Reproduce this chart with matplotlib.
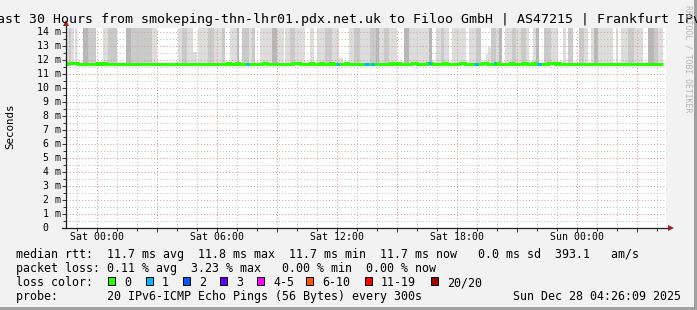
import matplotlib
matplotlib.use("Agg")
import matplotlib.pyplot as plt
from matplotlib import transforms
from matplotlib.patches import Rectangle
from matplotlib.ticker import MultipleLocator

W, H = 697, 310
MONO = "DejaVu Sans Mono"

# hours relative to Sat 00:00; window is Fri 22:26:09 .. Sun 04:26:09
t_first, t_last = -1.564, 28.436
data_start, data_end = -1.54, 28.27

# smoke: segment start (h) and how many of the 20 pings are above the top of the graph
smoke_start = [-1.54, -1.42, -1.29, -1.15, -1.09, -1.00, -0.70, -0.45, -0.04, 0.30,
               0.55, 0.97, 1.42, 1.68, 2.72, 2.97, 4.05, 4.25, 4.47, 4.80,
               5.05, 5.55, 5.85, 6.23, 6.40, 6.65, 6.98, 7.07, 7.23, 7.57,
               7.73, 7.90, 8.15, 8.73, 8.98, 9.32, 9.40, 9.65, 9.90, 10.40,
               10.65, 10.82, 10.98, 11.40, 11.73, 12.07, 12.57, 12.82, 13.15, 13.62,
               13.92, 14.08, 14.33, 14.58, 15.00, 15.33, 15.58, 15.83, 16.33, 16.58,
               16.75, 16.92, 17.17, 17.33, 17.58, 17.75, 18.42, 18.58, 18.92, 19.17,
               19.67, 19.92, 20.08, 20.25, 20.38, 20.75, 20.92, 21.18, 21.43, 21.60,
               21.77, 21.93, 22.10, 22.35, 22.68, 23.02, 23.27, 23.43, 23.52, 23.77,
               24.10, 24.35, 24.52, 24.68, 24.85, 25.02, 25.77, 25.93, 26.02, 26.18,
               26.52, 26.85, 27.27, 27.52, 27.85, 28.02]
smoke_over = [1, 2, 1, 0, 1, 0, 3, 2, 0, 1,
              2, 0, 3, 2, 1, 0, 1, 2, 1, 0,
              1, 2, 1, 2, 0, 1, 3, 0, 2, 1,
              2, 0, 1, 3, 1, 0, 1, 2, 1, 0,
              1, 0, 1, 2, 1, 0, 1, 2, 1, 2,
              3, 1, 2, 1, 0, 3, 1, 1, 1, 3,
              0, 1, 2, 1, 0, 1, 0, 1, 2, 0,
              2, 1, 3, 0, 1, 2, 1, 2, 1, 0,
              1, 3, 0, 2, 1, 0, 1, 0, 2, 0,
              2, 1, 0, 1, 3, 1, 0, 1, 0, 1,
              2, 1, 0, 3, 2, 1]
smoke_low = 11.6

# short smoke peaks that stay inside the graph
peak_start = [4.80, 12.07, 19.42, 19.55]
peak_end = [4.97, 12.30, 19.55, 19.67]
peak_ms = [12.6, 12.15, 12.4, 12.9]

# median rtt: base value and short intervals where it was higher
rtt_base = 11.70
rtt_up_start = [-1.53, -0.03, 0.27, 6.47, 6.93, 8.27, 9.77, 10.62, 11.12, 11.62, 12.37,
                14.62, 14.97, 15.72, 16.47, 17.27, 18.12, 19.22, 19.87, 20.62, 21.27,
                21.72, 22.52, 22.97]
rtt_up_end = [-0.98, 0.12, 0.42, 6.62, 7.07, 8.47, 10.12, 10.77, 11.27, 11.77, 12.52,
              14.77, 15.12, 15.97, 16.72, 17.47, 18.37, 19.47, 20.02, 20.77, 21.47,
              21.87, 22.87, 23.12]
rtt_up_ms = [11.79, 11.78, 11.78, 11.78, 11.77, 11.78, 11.78, 11.78, 11.77, 11.78, 11.78,
             11.78, 11.78, 11.78, 11.78, 11.78, 11.78, 11.78, 11.77, 11.78, 11.78,
             11.77, 11.78, 11.78]

# packet loss intervals (lost pings out of 20)
loss_start = [7.42, 11.92, 13.32, 13.67, 16.52, 18.82, 19.82, 21.97]
loss_end = [7.57, 12.07, 13.57, 13.82, 16.67, 19.02, 19.92, 22.17]
loss_pings = [1, 1, 1, 1, 1, 1, 1, 1]

loss_labels = ["0", "1", "2", "3", "4-5", "6-10", "11-19", "20/20"]
loss_colors = ["#26ff00", "#00b8ff", "#0059ff", "#5e00ff", "#ff00ff", "#ff5500", "#ff0000", "#a10000"]
loss_lower = [0, 1, 2, 3, 4, 6, 11, 20]

x_label_hours = [0, 6, 12, 18, 24]
x_label_text = ["Sat 00:00", "Sat 06:00", "Sat 12:00", "Sat 18:00", "Sun 00:00"]
y_label_values = list(range(0, 15))

rtt_avg, rtt_max, rtt_min, rtt_now, rtt_sd, rtt_ams = 11.7, 11.8, 11.7, 11.7, 0.0, 393.1
loss_avg, loss_max, loss_min, loss_now = 0.11, 3.23, 0.00, 0.00
title = ("Last 30 Hours from smokeping-thn-lhr01.pdx.net.uk to Filoo GmbH | "
         "AS47215 | Frankfurt IPv6")
probe = "20 IPv6-ICMP Echo Pings (56 Bytes) every 300s"
stamp = "Sun Dec 28 04:26:09 2025"


def fx(px):
    return px / W


def fy(px):
    return 1 - px / H


fig = plt.figure(figsize=(W / 100, H / 100), dpi=100, facecolor="#f2f2f2")
ax_left, ax_right, ax_top, ax_bottom = 66, 666, 27.5, 228
ax = fig.add_axes([fx(ax_left), fy(ax_bottom), (ax_right - ax_left) / W, (ax_bottom - ax_top) / H])
ax.set_facecolor("white")
ax.set_xlim(t_first, t_last)
ax.set_ylim(0, 14.32)
for s in ax.spines.values():
    s.set_visible(False)

# smoke
bounds = smoke_start + [data_end]
for i, k in enumerate(smoke_over):
    if k == 0:
        continue
    g = int(190 / 10 * (10 - k)) + 50
    ax.fill_between([bounds[i], bounds[i + 1]], smoke_low, 20, color="#%02x%02x%02x" % (g, g, g),
                    lw=0, antialiased=False, zorder=1)
for s0, s1, p in zip(peak_start, peak_end, peak_ms):
    ax.fill_between([s0, s1], smoke_low, p, color="#dddddd", lw=0, antialiased=False, zorder=1)

# grid on top of smoke
ax.set_axisbelow(False)
ax.xaxis.set_major_locator(MultipleLocator(3))
ax.xaxis.set_minor_locator(MultipleLocator(1))
ax.yaxis.set_major_locator(MultipleLocator(1))
ax.yaxis.set_minor_locator(MultipleLocator(0.5))
ax.grid(which="minor", color="#c4c4c4", linestyle=(0, (1, 2)), lw=0.75)
ax.grid(which="major", color="#d89a9a", linestyle=(0, (1, 2)), lw=0.75)
ax.tick_params(which="both", direction="out", color="#333333", width=0.7,
               labelleft=False, labelbottom=False)
ax.tick_params(which="major", length=3)
ax.tick_params(which="minor", length=2)

# median line (step), coloured by loss
xs, ys = [data_start], [rtt_base]
for a, b, v in zip(rtt_up_start, rtt_up_end, rtt_up_ms):
    xs += [a, a, b, b]
    ys += [rtt_base, v, v, rtt_base]
xs.append(data_end)
ys.append(rtt_base)
ax.plot(xs, ys, color=loss_colors[0], lw=2.2, solid_capstyle="butt", solid_joinstyle="miter", zorder=5)


def rtt_at(t):
    for a, b, v in zip(rtt_up_start, rtt_up_end, rtt_up_ms):
        if a <= t < b:
            return v
    return rtt_base


for a, b, n in zip(loss_start, loss_end, loss_pings):
    ci = max(i for i, lo in enumerate(loss_lower) if n >= lo)
    v = rtt_at((a + b) / 2)
    ax.plot([a, b], [v, v], color=loss_colors[ci], lw=2.2, solid_capstyle="butt", zorder=6)

# axes with arrows
axis_c, arrow_c = "#1f1f1f", "#9b2020"
aw, ah = ax_right - ax_left, ax_bottom - ax_top
ax.plot([(62 - ax_left) / aw, (668 - ax_left) / aw], [0, 0], transform=ax.transAxes,
        color=axis_c, lw=0.9, clip_on=False, zorder=7)
ax.plot([0, 0], [0, (ax_bottom - 23) / ah], transform=ax.transAxes,
        color=axis_c, lw=0.9, clip_on=False, zorder=7)
ax.plot([0], [(ax_bottom - 23.5) / ah], marker="^", ms=4.5, color=arrow_c, mew=0,
        transform=ax.transAxes, clip_on=False, zorder=8)
ax.plot([(670.5 - ax_left) / aw], [0], marker=">", ms=4.5, color=arrow_c, mew=0,
        transform=ax.transAxes, clip_on=False, zorder=8)

# tick labels
ytr = transforms.offset_copy(transforms.blended_transform_factory(fig.transFigure, ax.transData),
                             fig=fig, x=0, y=-3.4, units="dots")
for v in y_label_values:
    if v == 0:
        fig.text(fx(48.5), v, "0", transform=ytr, ha="right", va="baseline",
                 fontsize=7.1, family=MONO)
    else:
        fig.text(fx(60.5), v, "%d m" % v, transform=ytr, ha="right", va="baseline",
                 fontsize=7.1, family=MONO)
xtr = transforms.blended_transform_factory(ax.transData, fig.transFigure)
for h, lab in zip(x_label_hours, x_label_text):
    fig.text(h, fy(240.5), lab, transform=xtr, ha="center", va="baseline",
             fontsize=7.1, family=MONO)

fig.text(fx(10), fy(126), "Seconds", rotation=90, ha="center", va="center",
         fontsize=7.8, family=MONO)
fig.text(fx(349), fy(19), title, ha="center", va="center", fontsize=9.5, family=MONO)
fig.text(fx(688), fy(59), "RRDTOOL / TOBI OETIKER", rotation=270, ha="center", va="center",
         fontsize=5.9, family=MONO, color="#b4b4b4")

# legend
lf = 8.38
row1 = ("median rtt:  %.1f ms avg  %.1f ms max  %.1f ms min  %.1f ms now   %.1f ms sd  %.1f   am/s"
        % (rtt_avg, rtt_max, rtt_min, rtt_now, rtt_sd, rtt_ams))
row2 = ("packet loss: %.2f %% avg  %.2f %% max  %5.2f %% min  %.2f %% now"
        % (loss_avg, loss_max, loss_min, loss_now))
fig.text(fx(16), fy(258), row1, ha="left", va="baseline", fontsize=lf, family=MONO)
fig.text(fx(16), fy(272), row2, ha="left", va="baseline", fontsize=lf, family=MONO)
fig.text(fx(16), fy(286), "loss color:", ha="left", va="baseline", fontsize=lf, family=MONO)
box_x = [108, 146, 183, 220, 257, 306, 365, 431]
for bx, lab, col in zip(box_x, loss_labels, loss_colors):
    fig.add_artist(Rectangle((fx(bx), fy(285.3)), 7 / W, 8 / H, transform=fig.transFigure,
                             facecolor=col, edgecolor="black", lw=0.7))
    fig.text(fx(bx + 16), fy(286), lab, ha="left", va="baseline", fontsize=lf, family=MONO)
fig.text(fx(16), fy(300), "probe:       " + probe, ha="left", va="baseline", fontsize=lf, family=MONO)
fig.text(fx(681), fy(300), stamp, ha="right", va="baseline", fontsize=lf, family=MONO)

# frame shade
fig.add_artist(Rectangle((fx(694), 0), 3 / W, 1, transform=fig.transFigure, color="#a0a0a0", lw=0))
fig.add_artist(Rectangle((0, 0), 1, 3 / H, transform=fig.transFigure, color="#a0a0a0", lw=0))

fig.savefig("out.png", dpi=100, facecolor=fig.get_facecolor())
